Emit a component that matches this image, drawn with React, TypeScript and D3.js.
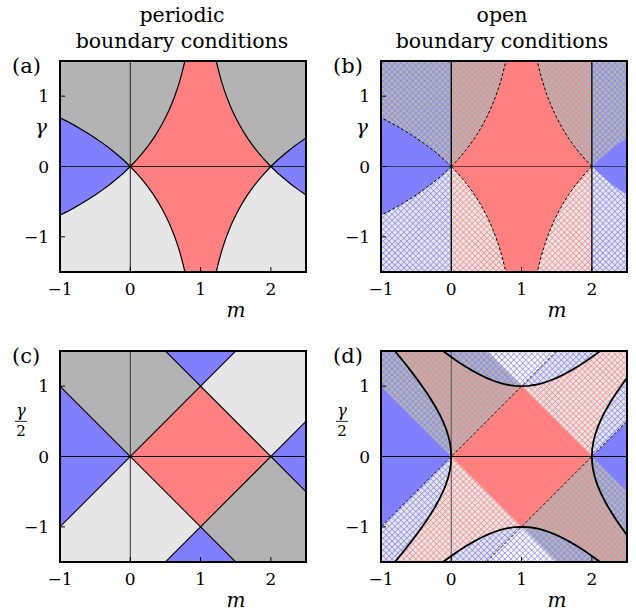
import React from "react";
import * as d3 from "d3";

const W = 636;
const H = 616;
const PW = 246;
const PH = 211;

const mDomain = [-1, 2.5];
const gDomain = [-1.5, 1.5];
const mTicks = [-1, 0, 1, 2];
const gTicks = [-1, 0, 1];
const titleA = ["periodic", "boundary conditions"];
const titleB = ["open", "boundary conditions"];
const panelLabels = ["(a)", "(b)", "(c)", "(d)"];

// (a)/(b): PBC boundary |γ| = |ln|m−1||, as [|m−1|, |γ|]
const pbcInner: number[][] = [
  [1, 0], [0.905, 0.1], [0.819, 0.2], [0.741, 0.3], [0.670, 0.4], [0.607, 0.5],
  [0.549, 0.6], [0.497, 0.7], [0.449, 0.8], [0.407, 0.9], [0.368, 1.0], [0.333, 1.1],
  [0.301, 1.2], [0.273, 1.3], [0.247, 1.4], [0.223, 1.5], [0.202, 1.6],
];
const pbcOuter: number[][] = [
  [1, 0], [1.1, 0.095], [1.2, 0.182], [1.3, 0.262], [1.4, 0.336], [1.5, 0.405],
  [1.6, 0.47], [1.7, 0.531], [1.8, 0.588], [1.9, 0.642], [2.0, 0.693], [2.1, 0.742],
];
// (b): OBC boundaries at m = 0 and m = 2
const obcLinesB = [0, 2];

// (c)/(d): PBC regions (m, γ/2)
const diamond: number[][] = [[0, 0], [1, 1], [2, 0], [1, -1]];
const sideTriangles: number[][][] = [
  [[-2, 2], [0, 0], [-2, -2]],
  [[4, 2], [2, 0], [4, -2]],
];
const capTriangles: number[][][] = [
  [[0, 2], [1, 1], [2, 2]],
  [[0, -2], [1, -1], [2, -2]],
];
const pbcLinesC: number[][][] = [
  [[-2, -2], [2, 2]],
  [[-2, 2], [2, -2]],
  [[0, -2], [4, 2]],
  [[0, 2], [4, -2]],
];
const dashedLinesD: number[][][] = [
  [[-2, -2], [2, 2]],
  [[0, -2], [4, 2]],
];
// (d): OBC boundary |(m−1)² − (γ/2)²| = 1, as [s, √(1+s²)]
const hyperbola: number[][] = [
  [0, 1], [0.1, 1.005], [0.2, 1.02], [0.3, 1.044], [0.4, 1.077], [0.5, 1.118],
  [0.6, 1.166], [0.7, 1.221], [0.8, 1.281], [0.9, 1.345], [1.0, 1.414], [1.1, 1.487],
  [1.2, 1.562], [1.3, 1.64], [1.4, 1.72], [1.5, 1.803],
];

const RED = "#ff8080";
const BLUE = "#8080ff";
const DARK = "#b3b3b3";
const LIGHT = "#e6e6e6";
const FONT = "DejaVu Serif";

const panels = [
  { id: "a", x0: 60, y0: 61 },
  { id: "b", x0: 381, y0: 61 },
  { id: "c", x0: 60, y0: 351 },
  { id: "d", x0: 381, y0: 351 },
];

const rev = (a: number[][]) => a.slice().reverse();

function Panel({ id, x0, y0, idx }: { id: string; x0: number; y0: number; idx: number }) {
  const x = d3.scaleLinear().domain(mDomain).range([x0, x0 + PW]);
  const y = d3.scaleLinear().domain(gDomain).range([y0 + PH, y0]);
  const line = d3.line<number[]>().x((d) => x(d[0])).y((d) => y(d[1]));
  const poly = (pts: number[][]) => (line(pts) || "") + "Z";
  const rect = (m0: number, m1: number, g0: number, g1: number) =>
    poly([[m0, g0], [m1, g0], [m1, g1], [m0, g1]]);
  const clipId = "clip-" + id;

  const els: React.ReactNode[] = [];
  let k = 0;
  const push = (e: React.ReactElement) => els.push(React.cloneElement(e, { key: k++ }));

  if (id === "a" || id === "b") {
    push(<path d={rect(-2, 3, 0, 2)} fill={DARK} />);
    push(<path d={rect(-2, 3, -2, 0)} fill={LIGHT} />);
    const redA = [
      ...pbcInner.map(([u, g]) => [1 - u, g]),
      ...rev(pbcInner).map(([u, g]) => [1 + u, g]),
      ...pbcInner.map(([u, g]) => [1 + u, -g]),
      ...rev(pbcInner).map(([u, g]) => [1 - u, -g]),
    ];
    const blueL = [
      ...pbcOuter.map(([u, g]) => [1 - u, g]),
      ...rev(pbcOuter).map(([u, g]) => [1 - u, -g]),
    ];
    const blueR = [
      ...pbcOuter.map(([u, g]) => [1 + u, g]),
      ...rev(pbcOuter).map(([u, g]) => [1 + u, -g]),
    ];
    if (id === "b") {
      push(<path d={rect(obcLinesB[0], obcLinesB[1], -2, 2)} fill="url(#hatchRed)" />);
      push(<path d={rect(-2, obcLinesB[0], -2, 2)} fill="url(#hatchBlue)" />);
      push(<path d={rect(obcLinesB[1], 3, -2, 2)} fill="url(#hatchBlue)" />);
    }
    push(<path d={poly(redA)} fill={RED} />);
    push(<path d={poly(blueL)} fill={BLUE} />);
    push(<path d={poly(blueR)} fill={BLUE} />);
    const inner = [
      pbcInner.map(([u, g]) => [1 - u, g]),
      pbcInner.map(([u, g]) => [1 - u, -g]),
      pbcInner.map(([u, g]) => [1 + u, g]),
      pbcInner.map(([u, g]) => [1 + u, -g]),
    ];
    const outerL = [
      pbcOuter.map(([u, g]) => [1 - u, g]),
      pbcOuter.map(([u, g]) => [1 - u, -g]),
    ];
    const outerR = [
      pbcOuter.map(([u, g]) => [1 + u, g]),
      pbcOuter.map(([u, g]) => [1 + u, -g]),
    ];
    if (id === "a") {
      push(<line x1={x(0)} x2={x(0)} y1={y0} y2={y0 + PH} stroke="#222" strokeWidth={1} />);
      push(<line x1={x0} x2={x0 + PW} y1={y(0)} y2={y(0)} stroke="#222" strokeWidth={1} />);
      [...inner, ...outerL, ...outerR].forEach((c) =>
        push(<path d={line(c) || ""} fill="none" stroke="#000" strokeWidth={1.2} />)
      );
    } else {
      push(<line x1={x0} x2={x0 + PW} y1={y(0)} y2={y(0)} stroke="#000" strokeOpacity={0.55} strokeWidth={1.2} />);
      [...inner, ...outerL].forEach((c) =>
        push(<path d={line(c) || ""} fill="none" stroke="#000" strokeWidth={1} strokeDasharray="3,2" />)
      );
      obcLinesB.forEach((m) =>
        push(<line x1={x(m)} x2={x(m)} y1={y0} y2={y0 + PH} stroke="#000" strokeWidth={1.3} />)
      );
    }
  } else {
    push(<path d={rect(-2, 1, 0, 2)} fill={DARK} />);
    push(<path d={rect(1, 3, 0, 2)} fill={LIGHT} />);
    push(<path d={rect(-2, 1, -2, 0)} fill={LIGHT} />);
    push(<path d={rect(1, 3, -2, 0)} fill={DARK} />);
    if (id === "c") {
      push(<path d={poly(diamond)} fill={RED} />);
      [...sideTriangles, ...capTriangles].forEach((t) => push(<path d={poly(t)} fill={BLUE} />));
      push(<line x1={x(0)} x2={x(0)} y1={y0} y2={y0 + PH} stroke="#333" strokeWidth={1} />);
      push(<line x1={x0} x2={x0 + PW} y1={y(0)} y2={y(0)} stroke="#000" strokeWidth={1} />);
      pbcLinesC.forEach((l) => push(<path d={line(l) || ""} stroke="#000" strokeWidth={1.1} fill="none" />));
    } else {
      capTriangles.forEach((t) => push(<path d={poly(t)} fill="#fff" />));
      const leftB = [
        ...rev(hyperbola).map(([s, t]) => [1 - t, -s]),
        ...hyperbola.slice(1).map(([s, t]) => [1 - t, s]),
      ];
      const topB = [
        ...rev(hyperbola).map(([s, t]) => [1 - s, t]),
        ...hyperbola.slice(1).map(([s, t]) => [1 + s, t]),
      ];
      const rightB = [
        ...rev(hyperbola).map(([s, t]) => [1 + t, s]),
        ...hyperbola.slice(1).map(([s, t]) => [1 + t, -s]),
      ];
      const botB = [
        ...rev(hyperbola).map(([s, t]) => [1 + s, -t]),
        ...hyperbola.slice(1).map(([s, t]) => [1 - s, -t]),
      ];
      const redObc = [...leftB, ...topB, ...rightB, ...botB];
      push(<path d={poly(redObc)} fill="url(#hatchRed)" />);
      push(
        <path
          d={rect(-2, 3, -2, 2) + " " + poly(redObc)}
          fill="url(#hatchBlue)"
          fillRule="evenodd"
        />
      );
      push(<path d={poly(diamond)} fill={RED} />);
      sideTriangles.forEach((t) => push(<path d={poly(t)} fill={BLUE} />));
      push(<line x1={x(0)} x2={x(0)} y1={y0} y2={y0 + PH} stroke="#555" strokeWidth={1} />);
      push(<line x1={x0} x2={x0 + PW} y1={y(0)} y2={y(0)} stroke="#000" strokeWidth={1} />);
      dashedLinesD.forEach((l) =>
        push(<path d={line(l) || ""} stroke="#000" strokeWidth={0.9} strokeDasharray="3,2" fill="none" />)
      );
      [leftB, topB, rightB, botB].forEach((c) =>
        push(<path d={line(c) || ""} stroke="#000" strokeWidth={1.8} fill="none" />)
      );
    }
  }

  const isFrac = id === "c" || id === "d";
  const yMid = y(0.5);

  return (
    <g>
      <defs>
        <clipPath id={clipId}>
          <rect x={x0} y={y0} width={PW} height={PH} />
        </clipPath>
      </defs>
      <g clipPath={`url(#${clipId})`}>{els}</g>
      {mTicks.map((t) => (
        <line key={"mt" + t} x1={x(t)} x2={x(t)} y1={y0 + PH} y2={y0 + PH - 5} stroke="#000" strokeWidth={1} />
      ))}
      {gTicks.map((t) => (
        <line key={"gt" + t} x1={x0} x2={x0 + 5} y1={y(t)} y2={y(t)} stroke="#000" strokeWidth={1} />
      ))}
      <rect x={x0} y={y0} width={PW} height={PH} fill="none" stroke="#000" strokeWidth={2} />
      {mTicks.map((t) => (
        <text key={"ml" + t} x={x(t)} y={y0 + PH + 23} textAnchor="middle" fontFamily={FONT} fontSize={17}>
          {t < 0 ? "\u2212" + Math.abs(t) : String(t)}
        </text>
      ))}
      {gTicks.map((t) => (
        <text key={"gl" + t} x={x0 - 11} y={y(t) + 6} textAnchor="end" fontFamily={FONT} fontSize={17}>
          {t < 0 ? "\u2212" + Math.abs(t) : String(t)}
        </text>
      ))}
      <text x={x0 + 176} y={y0 + PH + 45} textAnchor="middle" fontFamily={FONT} fontStyle="italic" fontSize={20}>
        m
      </text>
      {isFrac ? (
        <g>
          <text x={x0 - 39} y={yMid - 5} textAnchor="middle" fontFamily={FONT} fontStyle="italic" fontSize={16}>
            γ
          </text>
          <line x1={x0 - 45} x2={x0 - 33} y1={yMid} y2={yMid} stroke="#000" strokeWidth={0.9} />
          <text x={x0 - 39} y={yMid + 15} textAnchor="middle" fontFamily={FONT} fontSize={15}>
            2
          </text>
        </g>
      ) : (
        <text x={x0 - 19} y={yMid + 3} textAnchor="middle" fontFamily={FONT} fontStyle="italic" fontSize={20}>
          γ
        </text>
      )}
      <text x={x0 - 48} y={y0 + 12} fontFamily={FONT} fontSize={21}>
        {panelLabels[idx]}
      </text>
    </g>
  );
}

export default function App() {
  return (
    <svg
      width={W}
      height={H}
      style={{ position: "absolute", left: 0, top: 0, display: "block", background: "#fff" }}
    >
      <defs>
        <pattern id="hatchRed" patternUnits="userSpaceOnUse" width={4.2} height={4.2} patternTransform="rotate(45)">
          <path d="M0,0H4.2M0,0V4.2" stroke={RED} strokeWidth={1.3} />
        </pattern>
        <pattern id="hatchBlue" patternUnits="userSpaceOnUse" width={4.2} height={4.2} patternTransform="rotate(45)">
          <path d="M0,0H4.2M0,0V4.2" stroke={BLUE} strokeWidth={1.3} />
        </pattern>
      </defs>
      <rect x={0} y={0} width={W} height={H} fill="#fff" />
      {[titleA, titleB].map((tl, i) => (
        <g key={"t" + i}>
          <text x={i === 0 ? 182 : 502} y={22} textAnchor="middle" fontFamily={FONT} fontSize={20.5}>
            {tl[0]}
          </text>
          <text x={i === 0 ? 182 : 502} y={48} textAnchor="middle" fontFamily={FONT} fontSize={20.5}>
            {tl[1]}
          </text>
        </g>
      ))}
      {panels.map((p, i) => (
        <Panel key={p.id} id={p.id} x0={p.x0} y0={p.y0} idx={i} />
      ))}
    </svg>
  );
}
